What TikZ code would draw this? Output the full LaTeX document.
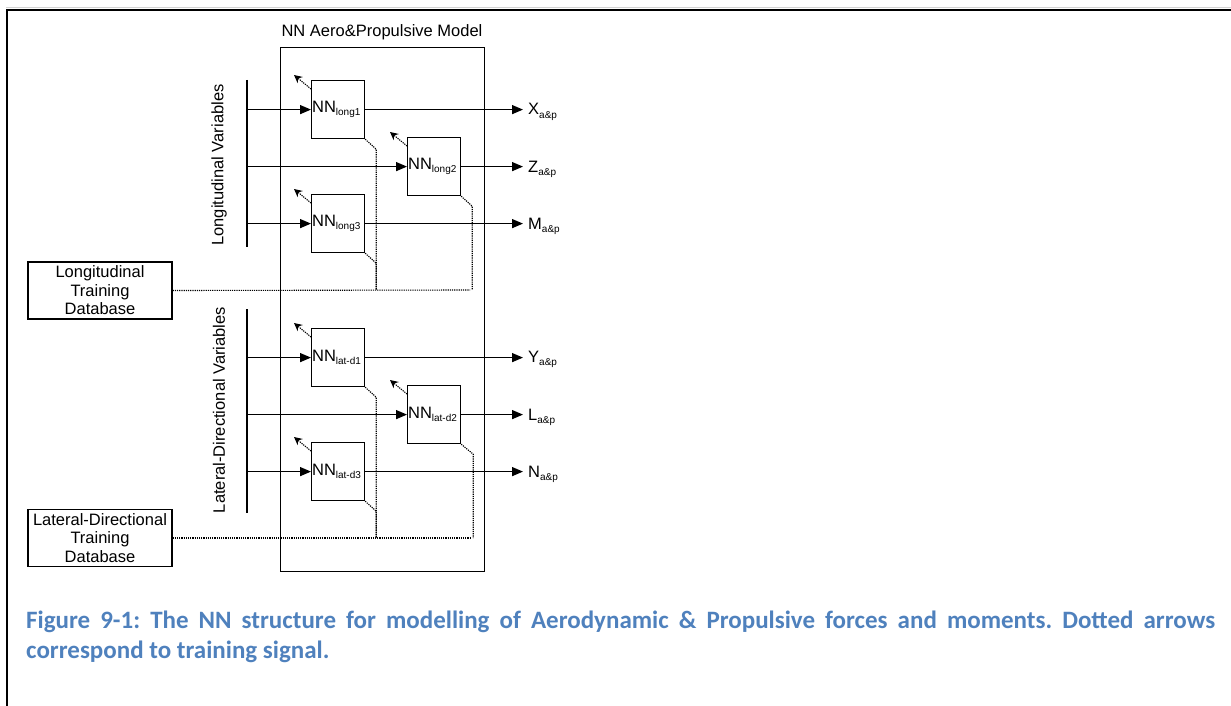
\documentclass[tikz,border=0pt]{standalone}
\usepackage{fontspec}
\setmainfont{Liberation Sans}
\newfontfamily\capfont{Carlito}
\usetikzlibrary{arrows.meta}
\definecolor{capblue}{HTML}{4F81BD}
\newcommand\sbs[1]{\raisebox{-3.5pt}{\fontsize{10}{10}\selectfont #1}}
\frenchspacing
\begin{document}
\begin{tikzpicture}[x=1pt,y=-1pt,
  every node/.style={font=\fontsize{16.5}{18.5}\selectfont, inner sep=0pt},
  nnbox/.style={draw, line width=1.2pt, text width=52pt, inner xsep=0.5pt, align=left,
                minimum height=58pt, anchor=north west},
  sig/.style={line width=1.4pt},
  arr/.style={sig, -{Triangle[length=11pt,width=9pt]}},
  dot/.style={line width=1.1pt, dash pattern=on 1.2pt off 1pt},
  darr/.style={dot, -{Stealth[length=8pt,width=8pt]}},
  outlbl/.style={anchor=base west},
  dbbox/.style={draw, line width=1.2pt, minimum width=144pt, minimum height=57pt, align=center}
]
\useasboundingbox (0,0) rectangle (1231,706);
% page frame
\draw[gray!35, line width=1pt] (6,8) -- (1231,8);
\draw[line width=2.4pt] (7,706) -- (7,10) -- (1231,10);

% model box
\node[draw, line width=1.2pt, minimum width=204pt, minimum height=524pt, anchor=north west] (model) at (280,47) {};
\node (title) at (382,32) {NN Aero\&Propulsive Model};

% variable bars
\coordinate (lbt) at (247,80);
\coordinate (lbb) at (247,247);
\coordinate (dbt) at (247,309);
\coordinate (dbb) at (247,513);
\draw[sig] (lbt) -- (lbb);
\draw[sig] (dbt) -- (dbb);
\node[rotate=90] (lv) at (219,165) {Longitudinal Variables};
\node[rotate=90] (dv) at (219,410) {Lateral-Directional Variables};

% databases
\node[dbbox] (ldb) at (100,290.5) {Longitudinal\\Training\\Database};
\node[dbbox] (ddb) at (100,538) {Lateral-Directional\\Training\\Database};

% NN boxes
\node[nnbox] (l1) at (311,80)  {NN\sbs{long1}};
\node[nnbox] (l2) at (407,137) {NN\sbs{long2}};
\node[nnbox] (l3) at (311,194) {NN\sbs{long3}};
\node[nnbox] (d1) at (311,328) {NN\sbs{lat-d1}};
\node[nnbox] (d2) at (407,385) {NN\sbs{lat-d2}};
\node[nnbox] (d3) at (311,442) {NN\sbs{lat-d3}};

% output labels
\node[outlbl] (ox) at (528,115) {X\sbs{a\&p}};
\node[outlbl] (oz) at (528,172) {Z\sbs{a\&p}};
\node[outlbl] (om) at (528,229) {M\sbs{a\&p}};
\node[outlbl] (oy) at (528,362) {Y\sbs{a\&p}};
\node[outlbl] (ol) at (528,420) {L\sbs{a\&p}};
\node[outlbl] (on) at (528,477) {N\sbs{a\&p}};

% inputs
\foreach \b in {l1,l2,l3}{\draw[arr] (lbt |- \b.west) -- (\b.west);}
\foreach \b in {d1,d2,d3}{\draw[arr] (dbt |- \b.west) -- (\b.west);}

% outputs
\foreach \b/\o in {l1/ox,l2/oz,l3/om,d1/oy,d2/ol,d3/on}{
  \draw[arr] (\b.east) -- ([xshift=-5pt]\b.east -| \o.west);}

% training signal arrows
\foreach \b in {l1,l2,l3,d1,d2,d3}{
  \draw[darr] ([yshift=-9pt]\b.north west) -- ++(-17,-14);}

% training signal lines
\coordinate (lt) at (470,290);
\coordinate (dt) at (471,538);
\draw[dot] (ldb.east) -- (lt);
\draw[dot] (ddb.east) -- (dt);
\draw[dot] (l1.south east) -- ++(11,10) coordinate (c1) -- (c1 |- lt);
\draw[dot] (l3.south east) -- ++(11,10) coordinate (c3) -- (c3 |- lt);
\draw[dot] (l2.south east) -- ++(11,10) coordinate (c2) -- (c2 |- lt);
\draw[dot] (d1.south east) -- ++(11,10) coordinate (e1) -- (e1 |- dt);
\draw[dot] (d3.south east) -- ++(11,10) coordinate (e3) -- (e3 |- dt);
\draw[dot] (d2.south east) -- ++(12,10) coordinate (e2) -- (e2 |- dt);

% caption
\node[anchor=base west, text width=1189pt, align=justify,
      font=\capfont\bfseries\fontsize{25}{30}\selectfont, text=capblue] (cap) at (26,628)
  {Figure 9-1: The NN structure for modelling of Aerodynamic \& Propulsive forces and moments. Dotted arrows \mbox{correspond} to training signal.};
\end{tikzpicture}
\end{document}
